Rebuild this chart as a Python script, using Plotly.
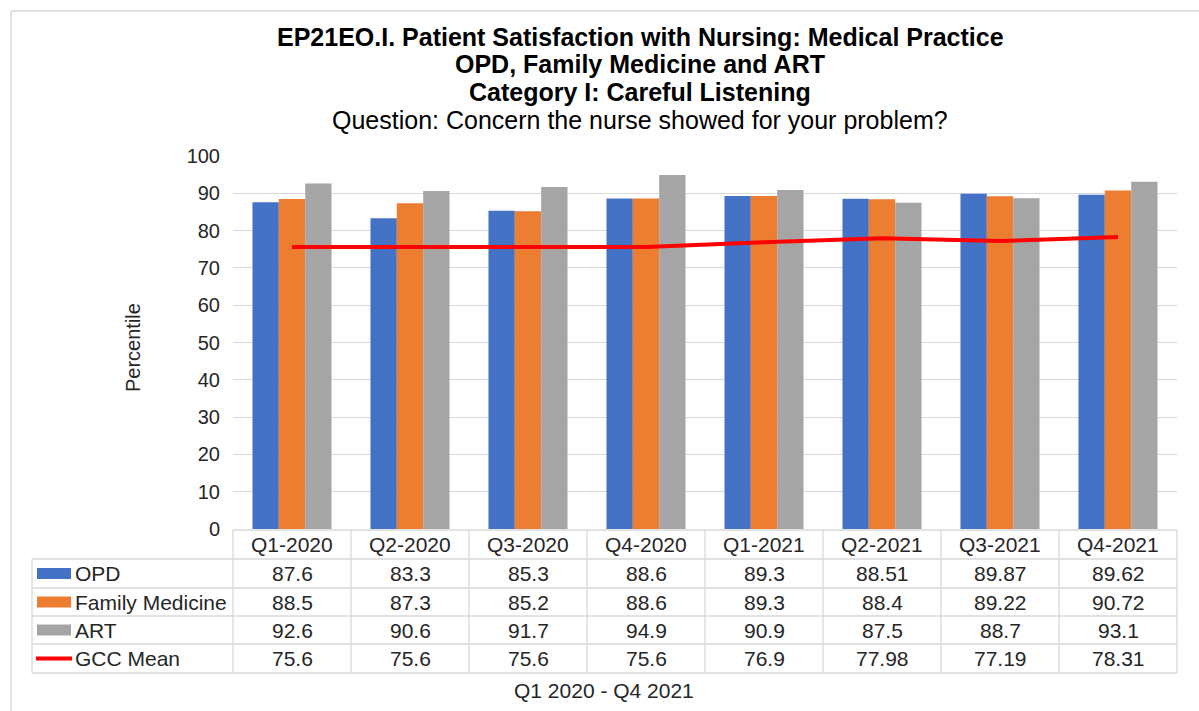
import plotly.graph_objects as go

categories = ["Q1-2020", "Q2-2020", "Q3-2020", "Q4-2020", "Q1-2021", "Q2-2021", "Q3-2021", "Q4-2021"]
opd = [87.6, 83.3, 85.3, 88.6, 89.3, 88.51, 89.87, 89.62]
family_medicine = [88.5, 87.3, 85.2, 88.6, 89.3, 88.4, 89.22, 90.72]
art = [92.6, 90.6, 91.7, 94.9, 90.9, 87.5, 88.7, 93.1]
gcc_mean = [75.6, 75.6, 75.6, 75.6, 76.9, 77.98, 77.19, 78.31]

opd_labels = ["87.6", "83.3", "85.3", "88.6", "89.3", "88.51", "89.87", "89.62"]
fm_labels = ["88.5", "87.3", "85.2", "88.6", "89.3", "88.4", "89.22", "90.72"]
art_labels = ["92.6", "90.6", "91.7", "94.9", "90.9", "87.5", "88.7", "93.1"]
gcc_labels = ["75.6", "75.6", "75.6", "75.6", "76.9", "77.98", "77.19", "78.31"]

series_names = ["OPD", "Family Medicine", "ART", "GCC Mean"]
colors = ["#4472C4", "#ED7D31", "#A5A5A5", "#FF0000"]

W, H = 1199, 711
PL, PR, PT, PB = 233, 1177, 156, 529
FONT = "Liberation Sans, Arial, sans-serif"
TXT = "#262626"
GRID = "#D9D9D9"
TBL_FS = 21


def fx(px):
    return (px - PL) / (PR - PL)


def fy(py):
    return (PB - py) / (PB - PT)


fig = go.Figure()
for name, vals, col in zip(series_names[:3], [opd, family_medicine, art], colors[:3]):
    fig.add_trace(go.Bar(x=categories, y=vals, name=name, marker=dict(color=col, line=dict(width=0))))
fig.add_trace(go.Scatter(x=categories, y=gcc_mean, name="GCC Mean", mode="lines",
                         line=dict(color=colors[3], width=4)))

shapes = []
annotations = []

# outer chart border (top and left)
shapes.append(dict(type="line", xref="paper", yref="paper", x0=fx(11), x1=fx(W), y0=fy(11), y1=fy(11),
                   line=dict(color="#E0E0E0", width=2)))
shapes.append(dict(type="line", xref="paper", yref="paper", x0=fx(11), x1=fx(11), y0=fy(11), y1=fy(H),
                   line=dict(color="#E0E0E0", width=2)))

# data table grid
row_edges = [530, 559, 588, 616, 644, 673]
tbl_left = 32
shapes.append(dict(type="line", xref="paper", yref="paper", x0=fx(PL), x1=fx(PR), y0=fy(row_edges[0]),
                   y1=fy(row_edges[0]), line=dict(color=GRID, width=1.3)))
for ry in row_edges[1:]:
    shapes.append(dict(type="line", xref="paper", yref="paper", x0=fx(tbl_left), x1=fx(PR), y0=fy(ry), y1=fy(ry),
                       line=dict(color=GRID, width=1.3)))
ncat = len(categories)
for i in range(ncat + 1):
    xpx = PL + (PR - PL) * i / ncat
    shapes.append(dict(type="line", xref="paper", yref="paper", x0=fx(xpx), x1=fx(xpx), y0=fy(row_edges[0]),
                       y1=fy(row_edges[-1]), line=dict(color=GRID, width=1.3)))
shapes.append(dict(type="line", xref="paper", yref="paper", x0=fx(tbl_left), x1=fx(tbl_left), y0=fy(row_edges[1]),
                   y1=fy(row_edges[-1]), line=dict(color=GRID, width=1.3)))

# header row
hy = (row_edges[0] + row_edges[1]) / 2
for c in categories:
    annotations.append(dict(x=c, xref="x", y=fy(hy), yref="paper", text=c, showarrow=False,
                            font=dict(size=TBL_FS, color=TXT, family=FONT), xanchor="center", yanchor="middle"))

# value rows with legend keys
row_labels = [opd_labels, fm_labels, art_labels, gcc_labels]
for r, (name, labels, col) in enumerate(zip(series_names, row_labels, colors)):
    cy = (row_edges[r + 1] + row_edges[r + 2]) / 2
    if r < 3:
        shapes.append(dict(type="rect", xref="paper", yref="paper", x0=fx(37), x1=fx(71), y0=fy(cy - 5.5),
                           y1=fy(cy + 5.5), fillcolor=col, line=dict(width=0)))
    else:
        shapes.append(dict(type="line", xref="paper", yref="paper", x0=fx(36), x1=fx(72), y0=fy(cy), y1=fy(cy),
                           line=dict(color=col, width=4)))
    annotations.append(dict(x=fx(73), xref="paper", y=fy(cy), yref="paper", text=name, showarrow=False,
                            font=dict(size=TBL_FS, color=TXT, family=FONT), xanchor="left", yanchor="middle"))
    for c, lab in zip(categories, labels):
        annotations.append(dict(x=c, xref="x", y=fy(cy), yref="paper", text=lab, showarrow=False,
                                font=dict(size=TBL_FS, color=TXT, family=FONT), xanchor="center", yanchor="middle"))

# x axis title
annotations.append(dict(x=fx(604), xref="paper", y=fy(690), yref="paper", text="Q1 2020 - Q4 2021",
                        showarrow=False, font=dict(size=21, color=TXT, family=FONT),
                        xanchor="center", yanchor="middle"))
# y axis title
annotations.append(dict(x=fx(133), xref="paper", y=fy(348), yref="paper", text="Percentile", textangle=-90,
                        showarrow=False, font=dict(size=20, color=TXT, family=FONT),
                        xanchor="center", yanchor="middle"))

# titles
title_lines = [
    ("<b>EP21EO.I. Patient Satisfaction with Nursing: Medical Practice</b>", 37),
    ("<b>OPD, Family Medicine and ART</b>", 64),
    ("<b>Category I: Careful Listening</b>", 92),
    ("Question: Concern the nurse showed for your problem?", 120),
]
for txt, ty in title_lines:
    annotations.append(dict(x=fx(640), xref="paper", y=fy(ty), yref="paper", text=txt, showarrow=False,
                            font=dict(size=25, color="#000000", family=FONT), xanchor="center", yanchor="middle"))

fig.update_layout(
    width=W, height=H,
    margin=dict(l=PL, r=W - PR, t=PT, b=H - PB, pad=0),
    paper_bgcolor="white", plot_bgcolor="white",
    barmode="group", bargap=0.33, bargroupgap=0,
    showlegend=False,
    font=dict(family=FONT, color=TXT, size=20),
    xaxis=dict(showticklabels=False, showgrid=False, zeroline=False, showline=False, ticks=""),
    yaxis=dict(range=[0, 100], tickvals=[0, 10, 20, 30, 40, 50, 60, 70, 80, 90, 100],
               showgrid=True, gridcolor=GRID, gridwidth=1.3, zeroline=False, showline=False,
               ticks="", ticklabelstandoff=12, tickfont=dict(size=20, color=TXT, family=FONT)),
    shapes=shapes,
    annotations=annotations,
)

fig.write_html("out.html", config={"displayModeBar": False},
               post_script="document.body.style.margin='0px';document.body.style.overflow='hidden';")
